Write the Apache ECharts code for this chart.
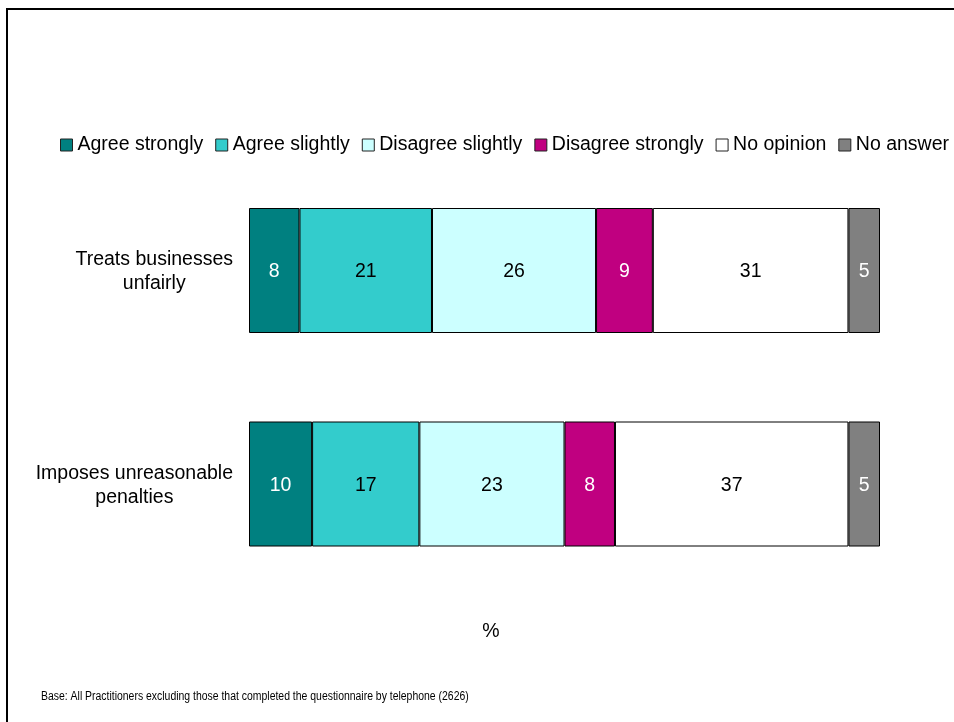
<!DOCTYPE html>
<html>
<head>
<meta charset="utf-8">
<script src="https://cdn.jsdelivr.net/npm/echarts@6/dist/echarts.min.js"></script>
<style>
  html, body { margin: 0; padding: 0; background: #ffffff; }
  #chart { width: 954px; height: 722px; }
</style>
</head>
<body>
<div id="chart"></div>
<script>
// Statements shown on the category axis (top to bottom)
const statements = ['Treats businesses\nunfairly', 'Imposes unreasonable\npenalties'];

// Response shares (%) per statement
const agreeStrongly    = [8, 10];
const agreeSlightly    = [21, 17];
const disagreeSlightly = [26, 23];
const disagreeStrongly = [9, 8];
const noOpinion        = [31, 37];
const noAnswer         = [5, 5];

const responseNames  = ['Agree strongly', 'Agree slightly', 'Disagree slightly', 'Disagree strongly', 'No opinion', 'No answer'];
const responseValues = [agreeStrongly, agreeSlightly, disagreeSlightly, disagreeStrongly, noOpinion, noAnswer];
const responseColors = ['#008080', '#33CCCC', '#CCFFFF', '#C00080', '#FFFFFF', '#808080'];
const labelColors    = ['#FFFFFF', '#000000', '#000000', '#FFFFFF', '#000000', '#FFFFFF'];

const FONT = '"Liberation Sans", Arial, sans-serif';
const BIG = 19.5;

const chart = echarts.init(document.getElementById('chart'), null, { renderer: 'canvas' });

const series = responseNames.map((name, i) => ({
  name: name,
  type: 'bar',
  stack: 'total',
  barWidth: 125,
  data: responseValues[i],
  itemStyle: { color: responseColors[i], borderColor: '#000000', borderWidth: 1 },
  label: {
    show: true,
    position: 'inside',
    offset: [0, 1.5],
    color: labelColors[i],
    fontFamily: FONT,
    fontSize: BIG
  },
  emphasis: { disabled: true },
  animation: false
}));

chart.setOption({
  backgroundColor: '#ffffff',
  animation: false,
  textStyle: { fontFamily: FONT },
  grid: { left: 249, right: 74, top: 163.75, bottom: 131.25, containLabel: false },
  legend: {
    data: responseNames,
    left: 55,
    top: 130,
    width: 920,
    orient: 'horizontal',
    icon: 'rect',
    itemWidth: 12,
    itemHeight: 12,
    itemGap: 12,
    selectedMode: false,
    itemStyle: { borderColor: '#222222', borderWidth: 1 },
    textStyle: { fontFamily: FONT, fontSize: BIG, color: '#000000' }
  },
  xAxis: {
    type: 'value',
    min: 0,
    max: 100,
    show: false
  },
  yAxis: {
    type: 'category',
    data: statements,
    inverse: true,
    axisLine: { show: false },
    axisTick: { show: false },
    splitLine: { show: false },
    axisLabel: {
      margin: 16,
      align: 'right',
      lineHeight: 24,
      color: '#000000',
      fontFamily: FONT,
      fontSize: BIG,
      formatter: function (v) {
        return v.split('\n').map(s => '{c|' + s + '}').join('\n');
      },
      rich: { c: { align: 'center', fontSize: BIG, lineHeight: 24, padding: [3, 0, 0, 0], fontFamily: FONT, color: '#000000' } }
    }
  },
  graphic: [
    {
      type: 'rect',
      silent: true,
      shape: { x: 7, y: 9, width: 1200, height: 1000 },
      style: { fill: null, stroke: '#000000', lineWidth: 2 }
    },
    {
      type: 'text',
      silent: true,
      x: 491,
      y: 632,
      style: { text: '%', fontFamily: FONT, fontSize: BIG, fill: '#000000', align: 'center', verticalAlign: 'middle' }
    },
    {
      type: 'text',
      silent: true,
      x: 41,
      y: 697,
      scaleX: 0.87,
      style: {
        text: 'Base: All Practitioners excluding those that completed the questionnaire by telephone (2626)',
        fontFamily: FONT,
        fontSize: 12,
        fill: '#000000',
        align: 'left',
        verticalAlign: 'middle'
      }
    }
  ],
  series: series
});
</script>
</body>
</html>
